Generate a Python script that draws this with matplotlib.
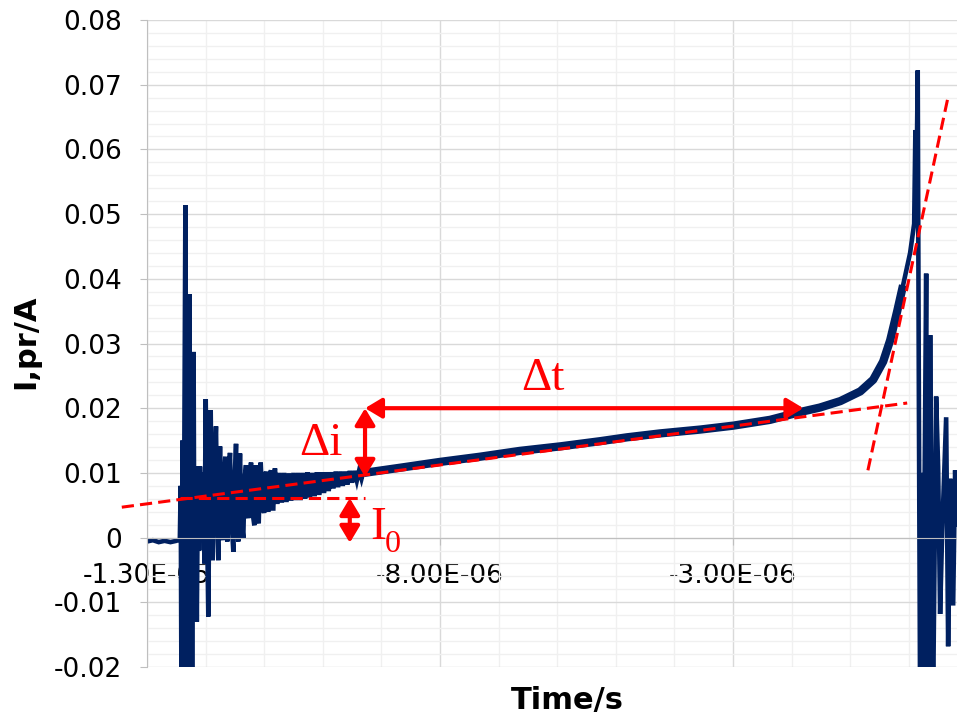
import numpy as np
import matplotlib
matplotlib.use('Agg')
import matplotlib.pyplot as plt
from matplotlib.ticker import MultipleLocator, FixedLocator, FuncFormatter

# -----------------------------------------------------------------------------
# Data (time in microseconds, current in A)
# -----------------------------------------------------------------------------
# baseline + ringing after switch-on
ring_t = [-13.00, -12.90, -12.80, -12.70, -12.60, -12.50, -12.44, -12.425, -12.41, -12.395,
          -12.38, -12.365, -12.345, -12.33, -12.315, -12.30, -12.275, -12.26, -12.245, -12.23,
          -12.205, -12.19, -12.17, -12.15, -12.13, -12.11, -12.096, -12.067, -12.04, -12.02,
          -11.998, -11.975, -11.954, -11.935, -11.913, -11.895, -11.879, -11.86, -11.823, -11.80,
          -11.783, -11.77, -11.754, -11.73, -11.708, -11.69, -11.664, -11.645, -11.630, -11.61,
          -11.584, -11.56, -11.527, -11.505, -11.481, -11.46, -11.442, -11.43, -11.413, -11.39,
          -11.357, -11.335, -11.311, -11.29, -11.271, -11.25, -11.225, -11.20, -11.169, -11.155,
          -11.145, -11.12, -11.094, -11.075, -11.060, -11.03, -11.003, -10.985, -10.969, -10.95,
          -10.930, -10.91, -10.884, -10.865, -10.845, -10.83, -10.816, -10.78, -10.74, -10.70,
          -10.66, -10.62, -10.58, -10.54, -10.50, -10.46, -10.42, -10.38, -10.34, -10.30,
          -10.26, -10.22, -10.18, -10.14, -10.10, -10.06, -10.02, -9.98, -9.94, -9.90,
          -9.86, -9.82, -9.78, -9.74, -9.70, -9.66, -9.62, -9.58, -9.54, -9.50,
          -9.46, -9.42, -9.38, -9.34, -9.30]
ring_i = [-0.0006, -0.0004, -0.0007, -0.0005, -0.0007, -0.0005, -0.0003, 0.008, -0.030, 0.015,
          -0.030, 0.010, 0.0514, -0.030, 0.012, -0.030, 0.0376, -0.030, 0.010, -0.030,
          0.0287, -0.012, 0.011, -0.013, 0.010, -0.002, 0.011, 0.0007, 0.010, -0.004,
          0.0214, 0.002, -0.0122, 0.008, 0.0197, 0.003, -0.0035, 0.008, 0.0172, 0.002,
          -0.0035, 0.007, 0.0141, 0.002, -0.0004, 0.009, 0.0125, 0.003, -0.0006, 0.009,
          0.0131, 0.003, -0.0022, 0.009, 0.0145, 0.002, -0.0006, 0.008, 0.0130, 0.003,
          -0.0001, 0.009, 0.0112, 0.004, 0.0030, 0.009, 0.0116, 0.004, 0.0019, 0.009,
          0.0112, 0.004, 0.0022, 0.009, 0.0116, 0.005, 0.0038, 0.009, 0.0102, 0.005,
          0.0040, 0.0095, 0.0104, 0.0045, 0.0045, 0.0100, 0.0107, 0.0052, 0.0100, 0.0054,
          0.0100, 0.0055, 0.0099, 0.0057, 0.0100, 0.0058, 0.0100, 0.0058, 0.0100, 0.0060,
          0.0101, 0.0062, 0.0100, 0.0064, 0.0101, 0.0066, 0.0101, 0.0069, 0.0101, 0.0072,
          0.0101, 0.0076, 0.0102, 0.0078, 0.0102, 0.0080, 0.0102, 0.0082, 0.0103, 0.0085,
          0.0103, 0.0088, 0.0104, 0.0091, 0.0105]

# slow linear rise, then steep rise before breakdown
ramp_t = [-9.30, -8.68, -8.00, -7.32, -6.64, -5.95, -5.27, -4.81, -4.25, -3.56, -3.00,
          -2.37, -1.86, -1.52, -1.17, -0.83, -0.61, -0.44, -0.32, -0.20, -0.10]
ramp_i = [0.0100, 0.0108, 0.0117, 0.0125, 0.0134, 0.0141, 0.0149, 0.0155, 0.0161, 0.0167, 0.0173,
          0.0182, 0.0194, 0.0201, 0.0211, 0.0226, 0.0244, 0.0272, 0.0305, 0.0350, 0.0390]

# peak and oscillation at the end
end_t = [-0.10, 0.02, 0.089, 0.110, 0.123, 0.150, 0.170, 0.190, 0.215, 0.240, 0.294, 0.310,
         0.328, 0.362, 0.39, 0.413, 0.464, 0.498, 0.532, 0.567, 0.635, 0.669, 0.703, 0.754,
         0.788, 0.823]
end_i = [0.0390, 0.0440, 0.0485, 0.0630, 0.0500, 0.0722, 0.0200, -0.0250, 0.010, -0.025, 0.0408,
         -0.0073, -0.025, 0.0313, -0.005, -0.025, 0.0218, 0.0110, -0.0118, 0.0009, 0.0186,
         -0.0168, 0.0091, -0.0105, 0.0104, 0.0020]

# red construction lines
tangent_t = [-13.43, -0.03]
tangent_i = [0.0047, 0.0208]
steep_t = [-0.70, 0.67]
steep_i = [0.0104, 0.0682]
i0_t = [-12.44, -9.28]
i0_i = [0.0061, 0.0061]

# arrows
dt_arrow_t = [-9.28, -1.80]
dt_arrow_i = 0.0200
di_arrow_t = -9.28
di_arrow_i = [0.0200, 0.0094]
i0_arrow_t = -9.54
i0_arrow_i = [0.0061, -0.0008]

x_major = [-1.3e-5, -8e-6, -3e-6]

US = 1e-6
navy = '#002060'
red = '#ff0000'

fig = plt.figure(figsize=(9.57, 7.15), dpi=100)
ax = fig.add_axes([147 / 957, 1 - 667 / 715, (957 - 147) / 957, (667 - 20) / 715])

# data
ax.plot(np.array(ring_t) * US, ring_i, color=navy, lw=3.3, solid_joinstyle='miter', zorder=2)
ax.plot(np.array(ramp_t) * US, ramp_i, color=navy, lw=6, solid_capstyle='butt', zorder=2)
ax.plot(np.array(end_t) * US, end_i, color=navy, lw=3.3, solid_joinstyle='miter', zorder=2)

# construction lines
dash = (0, (4, 2))
ax.plot(np.array(tangent_t) * US, tangent_i, color=red, lw=2.2, ls=dash, zorder=3, clip_on=False)
ax.plot(np.array(steep_t) * US, steep_i, color=red, lw=2.2, ls=dash, zorder=3)
ax.plot(np.array(i0_t) * US, i0_i, color=red, lw=2.2, ls=dash, zorder=3)

arrow = dict(arrowstyle='<|-|>,head_length=0.5,head_width=0.3', mutation_scale=20,
             lw=3, color=red, shrinkA=0, shrinkB=0)
ax.annotate('', xy=(dt_arrow_t[1] * US, dt_arrow_i), xytext=(dt_arrow_t[0] * US, dt_arrow_i),
            arrowprops=arrow, zorder=4)
ax.annotate('', xy=(di_arrow_t * US, di_arrow_i[1]), xytext=(di_arrow_t * US, di_arrow_i[0]),
            arrowprops=arrow, zorder=4)
ax.annotate('', xy=(i0_arrow_t * US, i0_arrow_i[1]), xytext=(i0_arrow_t * US, i0_arrow_i[0]),
            arrowprops=arrow, zorder=4)

serif = 'Liberation Serif'
ax.text(-6.24 * US, 0.0228, 'Δt', color=red, fontsize=34, family=serif, ha='center', va='baseline', zorder=5)
ax.text(-10.04 * US, 0.01275, 'Δi', color=red, fontsize=34, family=serif, ha='center', va='baseline', zorder=5)
ax.text(-9.195 * US, -0.0002, 'I', color=red, fontsize=34, family=serif, ha='left', va='baseline', zorder=5)
ax.text(-8.94 * US, -0.0022, '0', color=red, fontsize=23, family=serif, ha='left', va='baseline', zorder=5)

# axes
ax.set_xlim(-1.3e-5, 0.82e-6)
ax.set_ylim(-0.02, 0.08)
ax.xaxis.set_major_locator(FixedLocator(x_major))
ax.xaxis.set_minor_locator(MultipleLocator(1e-6))
ax.yaxis.set_major_locator(MultipleLocator(0.01))
ax.yaxis.set_minor_locator(MultipleLocator(0.002))
ax.xaxis.set_major_formatter(FuncFormatter(lambda v, p: f'{v:.2E}'))
ax.yaxis.set_major_formatter(FuncFormatter(lambda v, p: '0' if abs(v) < 1e-9 else f'{v:.2f}'))

ax.set_axisbelow(True)
ax.grid(which='major', color='#d9d9d9', lw=1.0)
ax.grid(which='minor', color='#f0f0f0', lw=1.0)

for s in ['top', 'right']:
    ax.spines[s].set_visible(False)
ax.spines['left'].set_color('#bfbfbf')
ax.spines['bottom'].set_color('#bfbfbf')
ax.spines['bottom'].set_position(('data', 0))

ax.tick_params(axis='x', which='major', direction='out', length=5, color='#bfbfbf',
               labelsize=19, pad=13)
ax.tick_params(axis='y', which='major', direction='out', length=5, color='#bfbfbf',
               labelsize=19, pad=13)
ax.tick_params(which='minor', length=0)

fig.text(26 / 957, 1 - 342 / 715, 'I,pr/A', rotation=90, fontsize=22, fontweight='bold',
         ha='center', va='center')
fig.text(567 / 957, 1 - 700 / 715, 'Time/s', fontsize=22, fontweight='bold',
         ha='center', va='center')

fig.savefig('out.png', dpi=100)
